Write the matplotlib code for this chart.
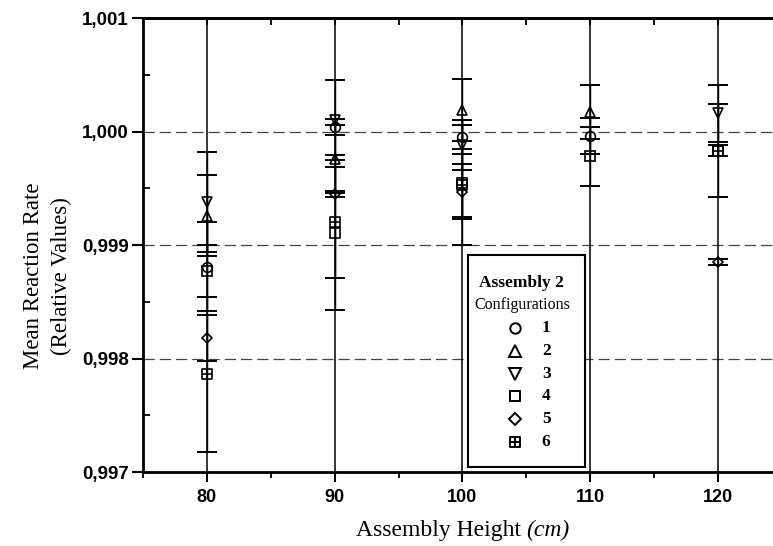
import numpy as np
import matplotlib
matplotlib.use("Agg")
import matplotlib.pyplot as plt
from matplotlib.path import Path
from matplotlib.ticker import MultipleLocator, FuncFormatter
from matplotlib.patches import Rectangle

# assembly heights (cm)
heights = [80, 90, 100, 110, 120]
nan = np.nan

# mean reaction rate per configuration
conf1 = [0.99881, 1.00004, 0.99995, 0.99996, nan]
conf2 = [0.99926, 0.99976, 1.00019, 1.00017, nan]
conf3 = [0.99938, 1.00010, 0.99988, nan, 1.00016]
conf4 = [0.99877, 0.99911, 0.99955, 0.99978, 0.99983]
conf5 = [0.99818, 0.99945, 0.99947, nan, 0.99885]
conf6 = [0.99786, 0.99920, 0.99953, nan, 0.99983]

# error bar half widths
err1 = [0.00039, 0.00007, 0.00015, 0.00016, nan]
err2 = [0.00036, 0.00030, 0.00027, 0.00024, nan]
err3 = [0.00044, 0.00035, 0.00022, nan, 0.00025]
err4 = [0.00023, 0.00068, 0.00030, 0.00026, 0.00005]
err5 = [0.00020, 0.00003, 0.00024, nan, 0.00003]
err6 = [0.00068, 0.00049, 0.00053, nan, 0.00041]

conf_labels = ['1', '2', '3', '4', '5', '6']

# square with a cross inside (config 6)
boxplus = Path([(-1, -1), (1, -1), (1, 1), (-1, 1), (-1, -1),
                (0, -1), (0, 1), (-1, 0), (1, 0)],
               [Path.MOVETO, Path.LINETO, Path.LINETO, Path.LINETO, Path.CLOSEPOLY,
                Path.MOVETO, Path.LINETO, Path.MOVETO, Path.LINETO])
markers = ['o', '^', 'v', 's', 'D', boxplus]
msizes = [7, 7.5, 7.5, 6.5, 5.5, 6.5]

series = [conf1, conf2, conf3, conf4, conf5, conf6]
errors = [err1, err2, err3, err4, err5, err6]

fig = plt.figure(figsize=(7.73, 5.46), dpi=100)
ax = fig.add_axes([0.185, 0.1355, 0.8266, 0.8315])

for vals, errs, m, ms in zip(series, errors, markers, msizes):
    ax.errorbar(heights, vals, yerr=errs, fmt='none', ecolor='black',
                elinewidth=1.0, capsize=7.2, capthick=1.4, zorder=3)
    ax.plot(heights, vals, linestyle='none', marker=m, markersize=ms,
            markerfacecolor='none', markeredgecolor='black',
            markeredgewidth=1.2, zorder=4)

ax.set_xlim(75, 125)
ax.set_ylim(0.997, 1.001)

# vertical solid grid at each height, dashed horizontal grid
for h in heights:
    ax.axvline(h, color='black', lw=1.1, zorder=2)
for yv in [0.998, 0.999, 1.000]:
    ax.axhline(yv, color='#444444', lw=0.9, dashes=(9, 4), zorder=1)

ax.xaxis.set_major_locator(MultipleLocator(10))
ax.xaxis.set_minor_locator(MultipleLocator(5))
ax.yaxis.set_major_locator(MultipleLocator(0.001))
ax.yaxis.set_minor_locator(MultipleLocator(0.0005))
ax.yaxis.set_major_formatter(FuncFormatter(lambda v, p: f"{v:.3f}".replace('.', ',')))

ax.tick_params(axis='x', which='major', direction='out', length=7, width=1.5,
               labelsize=13, pad=5)
ax.tick_params(axis='x', which='minor', direction='out', length=4, width=1.3)
ax.tick_params(axis='y', which='major', direction='out', length=8, width=1.5,
               labelsize=13.5, pad=2)
ax.tick_params(axis='y', which='minor', direction='in', length=5, width=1.3)
for lab in ax.get_xticklabels() + ax.get_yticklabels():
    lab.set_fontfamily('Liberation Sans')
    lab.set_fontweight('bold')

top = ax.secondary_xaxis('top')
top.xaxis.set_major_locator(MultipleLocator(5))
top.tick_params(direction='in', length=5, width=1.3, labeltop=False)

for s in ['left', 'bottom', 'top', 'right']:
    ax.spines[s].set_linewidth(2.0)
top.spines['top'].set_linewidth(2.0)

ax.set_ylabel("Mean Reaction Rate\n(Relative Values)", fontsize=16.5,
              fontfamily='Liberation Serif', linespacing=1.45)
ax.yaxis.set_label_coords(-0.111, 0.432)

# x label: upright words followed by italic unit, centred under the axes
xl1 = fig.text(0, 0.0183, "Assembly Height", fontsize=17,
               fontfamily='Liberation Serif', va='baseline', ha='left')
xl2 = fig.text(0, 0.0183, "(cm)", fontsize=17, fontstyle='italic',
               fontfamily='Liberation Serif', va='baseline', ha='left')
fig.canvas.draw()
r = fig.canvas.get_renderer()
w1 = xl1.get_window_extent(r).width
w2 = xl2.get_window_extent(r).width
gap = 5
figw = fig.get_figwidth() * fig.dpi
cx = (0.185 + 0.8266 / 2) * figw
x0 = cx - (w1 + gap + w2) / 2
xl1.set_x(x0 / figw)
xl2.set_x((x0 + w1 + gap) / figw)

# legend box drawn by hand to keep the two-weight heading
ax.add_patch(Rectangle((0.509, 0.011), 0.183, 0.467, transform=ax.transAxes,
                       facecolor='white', edgecolor='black', lw=1.5, zorder=5))
ax.text(0.593, 0.416, "Assembly 2", transform=ax.transAxes, ha='center',
        va='center', fontsize=12.5, fontweight='bold',
        fontfamily='Liberation Serif', zorder=6)
ax.text(0.594, 0.368, "Configurations", transform=ax.transAxes, ha='center',
        va='center', fontsize=11.5, fontfamily='Liberation Serif', zorder=6)
row0, step = 0.317, 0.0502
for i, (m, lab) in enumerate(zip(markers, conf_labels)):
    yy = row0 - i * step
    ax.plot([0.582], [yy], transform=ax.transAxes, marker=m,
            markersize=msizes[i] + 0.5, markerfacecolor='none',
            markeredgecolor='black', markeredgewidth=1.4, linestyle='none',
            zorder=6, clip_on=False)
    ax.text(0.631, yy, lab, transform=ax.transAxes, ha='center', va='center',
            fontsize=12.5, fontweight='bold', fontfamily='Liberation Serif', zorder=6)

fig.savefig("out.png", dpi=100)
